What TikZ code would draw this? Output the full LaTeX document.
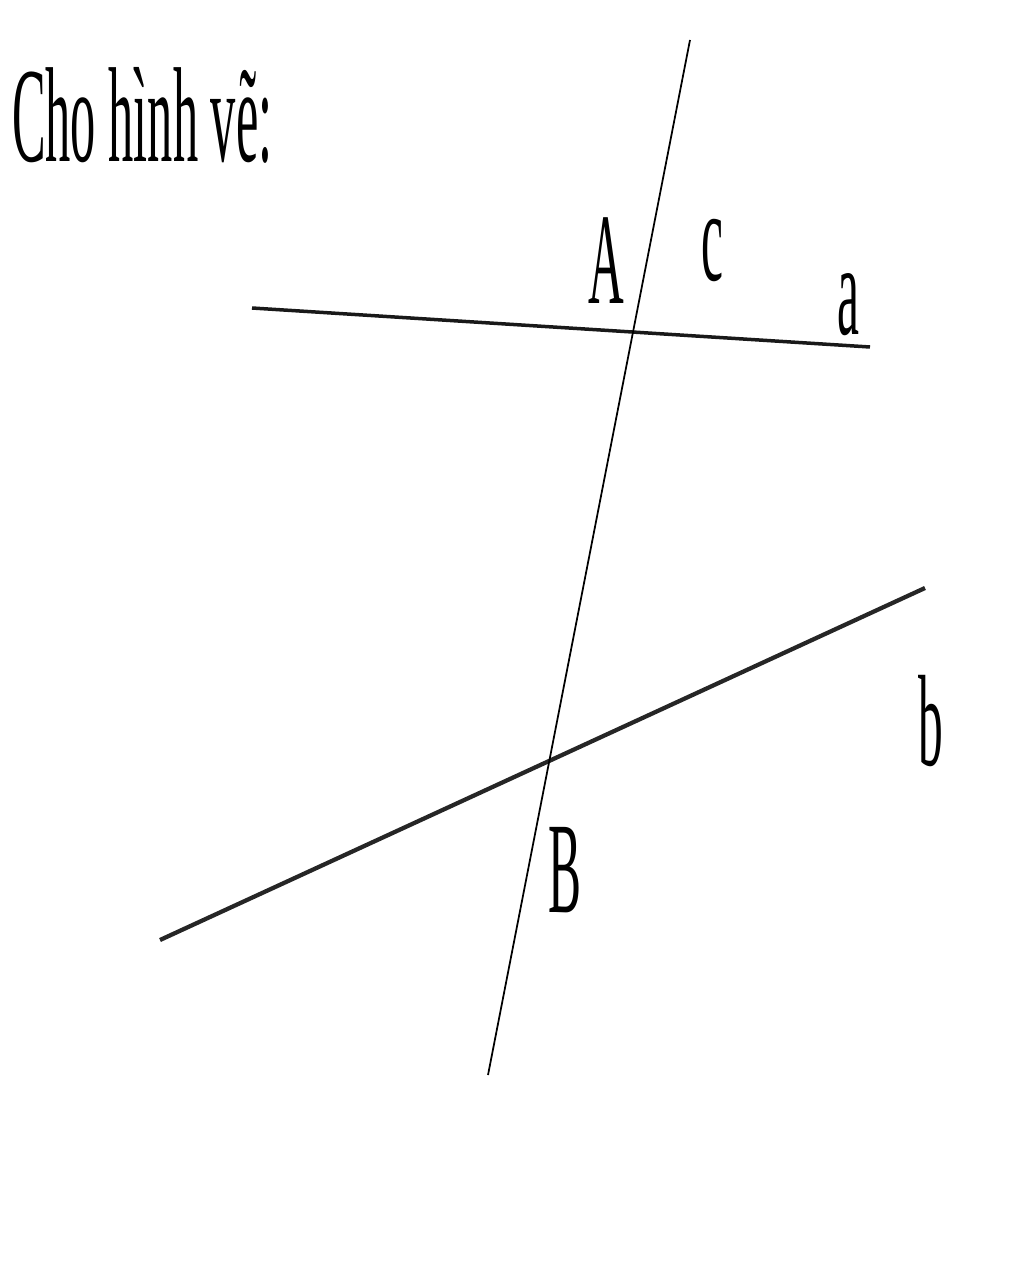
\documentclass[tikz,border=0pt]{standalone}
\usepackage{fontspec}
\setmainfont{Liberation Serif}
\begin{document}
\begin{tikzpicture}[x=0.02cm,y=-0.02cm,
  lbl/.style={inner sep=0pt,font=\fontsize{74}{80}\selectfont,xscale=0.38,transform shape},
  thinline/.style={line width=0.035cm,black},
  thickline/.style={line width=0.07cm,black!90},
  thickerline/.style={line width=0.085cm,black!85}]
\useasboundingbox (0,0) rectangle (1024,1280);
\coordinate (c1) at (690,40);
\coordinate (c2) at (488,1075);
\coordinate (a1) at (252,308);
\coordinate (a2) at (870,347);
\coordinate (b1) at (160,940);
\coordinate (b2) at (925,588);
\draw[thickline] (a1) -- (a2);
\draw[thickerline] (b1) -- (b2);
\draw[thinline] (c1) -- (c2);
\node[lbl,font=\fontsize{77}{80}\selectfont,xscale=0.98,anchor=base west] (title) at (12,162) {Cho hình vẽ:};
\node[lbl,anchor=base] (A) at (606,303) {A};
\node[lbl,anchor=base] (c) at (712,280) {c};
\node[lbl,anchor=base] (a) at (848,335) {a};
\node[lbl,anchor=base] (B) at (565,912) {B};
\node[lbl,anchor=base] (b) at (931,765) {b};
\end{tikzpicture}
\end{document}
